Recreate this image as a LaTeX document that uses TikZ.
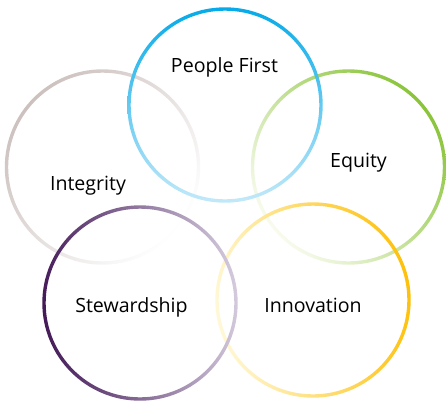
\documentclass[tikz,border=0pt]{standalone}
\usepackage{fontspec}
\setmainfont{Open Sans}
\begin{document}
\begin{tikzpicture}[x=1pt,y=-1pt,
  ring/.style={even odd rule},
  lbl/.style={font=\fontsize{19.6}{22}\selectfont, text=black, inner sep=0pt, anchor=base}]
\useasboundingbox (0,0) rectangle (446,405);
\def\R{96}
\def\w{1.7}
\coordinate (cI) at (102.5,167);
\coordinate (cE) at (348.5,167);
\coordinate (cN) at (313,300);
\coordinate (cS) at (140,303);
\coordinate (cP) at (225,105);
% Integrity
\shade[ring, top color={rgb,255:red,204;green,193;blue,190}, bottom color=white, shading angle=50]
  (cI) circle ({\R+\w}) (cI) circle ({\R-\w});
% Equity
\shade[ring, top color={rgb,255:red,138;green,196;blue,58}, bottom color={rgb,255:red,248;green,251;blue,238}, shading angle=-50]
  (cE) circle ({\R+\w}) (cE) circle ({\R-\w});
% Innovation
\shade[ring, top color={rgb,255:red,254;green,192;blue,10}, bottom color={rgb,255:red,255;green,248;blue,215}, shading angle=-80]
  (cN) circle ({\R+\w}) (cN) circle ({\R-\w});
% Stewardship
\shade[ring, top color={rgb,255:red,68;green,26;blue,88}, bottom color={rgb,255:red,212;green,203;blue,222}, shading angle=95]
  (cS) circle ({\R+\w}) (cS) circle ({\R-\w});
% People First
\shade[ring, top color={rgb,255:red,5;green,170;blue,232}, bottom color={rgb,255:red,195;green,233;blue,249}]
  (cP) circle ({\R+\w}) (cP) circle ({\R-\w});
\node[lbl] (tP) at (224.5,72) {People First};
\node[lbl] (tI) at (88,190) {Integrity};
\node[lbl] (tE) at (358.5,167) {Equity};
\node[lbl] (tS) at (131.5,312) {Stewardship};
\node[lbl] (tN) at (313,312) {Innovation};
\end{tikzpicture}
\end{document}
